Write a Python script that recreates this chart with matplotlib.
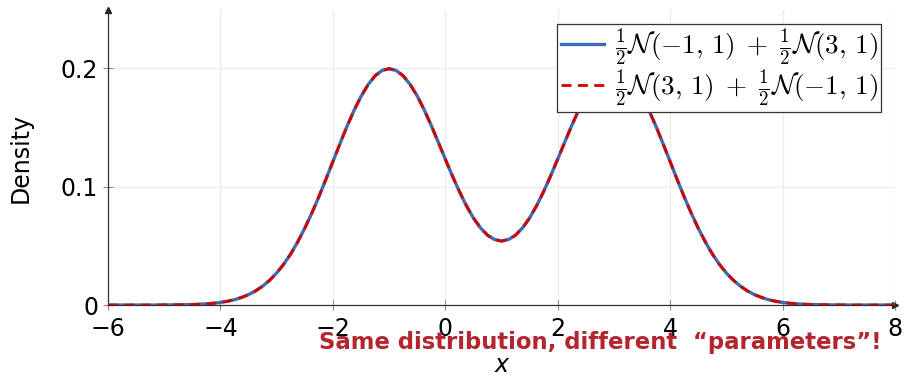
import numpy as np
import matplotlib
matplotlib.use("Agg")
import matplotlib.pyplot as plt

matplotlib.rcParams['mathtext.fontset'] = 'cm'
matplotlib.rcParams['font.family'] = 'DejaVu Sans'

# density of the two-component mixture (x step 0.125)
x_vals = np.arange(-6, 8.001, 0.125)
density = [
    0.0000, 0.0000, 0.0000, 0.0000, 0.0000, 0.0000, 0.0000, 0.0000,
    0.0001, 0.0001, 0.0002, 0.0003, 0.0004, 0.0007, 0.0010, 0.0015,
    0.0022, 0.0032, 0.0045, 0.0064, 0.0088, 0.0119, 0.0159, 0.0209,
    0.0270, 0.0344, 0.0431, 0.0533, 0.0648, 0.0775, 0.0913, 0.1059,
    0.1210, 0.1360, 0.1506, 0.1641, 0.1760, 0.1859, 0.1934, 0.1980,
    0.1995, 0.1980, 0.1935, 0.1862, 0.1765, 0.1648, 0.1516, 0.1375,
    0.1232, 0.1091, 0.0959, 0.0839, 0.0735, 0.0652, 0.0590, 0.0553,
    0.0540,
    0.0553, 0.0590, 0.0652, 0.0735, 0.0839, 0.0959, 0.1091, 0.1232,
    0.1375, 0.1516, 0.1648, 0.1765, 0.1862, 0.1935, 0.1980, 0.1995,
    0.1980, 0.1934, 0.1859, 0.1760, 0.1641, 0.1506, 0.1360, 0.1210,
    0.1059, 0.0913, 0.0775, 0.0648, 0.0533, 0.0431, 0.0344, 0.0270,
    0.0209, 0.0159, 0.0119, 0.0088, 0.0064, 0.0045, 0.0032, 0.0022,
    0.0015, 0.0010, 0.0007, 0.0004, 0.0003, 0.0002, 0.0001, 0.0001,
    0.0000, 0.0000, 0.0000, 0.0000, 0.0000, 0.0000, 0.0000, 0.0000,
]
labels = [r"$\frac{1}{2}\mathcal{N}(-1,\,1)\;+\;\frac{1}{2}\mathcal{N}(3,\,1)$",
          r"$\frac{1}{2}\mathcal{N}(3,\,1)\;+\;\frac{1}{2}\mathcal{N}(-1,\,1)$"]
xticks = [-6, -4, -2, 0, 2, 4, 6, 8]
yticks = [0, 0.1, 0.2]
ytick_labels = ["0", "0.1", "0.2"]

fig = plt.figure(figsize=(9.05, 3.78), dpi=100)
ax = fig.add_axes([0.1193, 0.193, 0.8697, 0.7805])

ax.plot(x_vals, density, color='#3a6db2', linewidth=2.4, label=labels[0], zorder=3)
ax.plot(x_vals, density, color='#d40000', linewidth=2.0, linestyle=(0, (3.6, 2.3)),
        label=labels[1], zorder=4)

ax.set_xlim(-6, 8)
ax.set_ylim(0, 0.249)
ax.set_xticks(xticks)
ax.set_xticklabels([str(v).replace('-', '\u2212') for v in xticks])
ax.set_yticks(yticks)
ax.set_yticklabels(ytick_labels)
ax.tick_params(labelsize=17, direction='inout', length=7, width=0.8, color='#888888')
ax.tick_params(axis='x', pad=5)
ax.grid(True, color='#ececec', linewidth=0.9)
ax.set_axisbelow(True)

for s in ['top', 'right']:
    ax.spines[s].set_visible(False)
for s in ['left', 'bottom']:
    ax.spines[s].set_linewidth(0.9)
    ax.spines[s].set_color('#333333')
ax.plot(1, 0, marker='>', color='#222222', markersize=5, transform=ax.transAxes, clip_on=False)
ax.plot(0, 1, marker='^', color='#222222', markersize=5, transform=ax.transAxes, clip_on=False)

ax.set_ylabel("Density", fontsize=17, labelpad=20)
ax.set_xlabel("x", fontsize=17, labelpad=9, fontstyle='italic')

leg = ax.legend(loc='upper right', fontsize=19.5, frameon=True, fancybox=False,
                edgecolor='#333333', framealpha=1, handlelength=1.6,
                borderpad=0.12, labelspacing=0.02, handletextpad=0.4,
                borderaxespad=0, bbox_to_anchor=(0.982, 0.9525))
leg.get_frame().set_linewidth(0.9)
leg.set_zorder(10)

fig.text(0.663, 0.095, "Same distribution, different  \u201cparameters\u201d!",
         color='#b5252f', fontsize=16.4, fontweight='bold', ha='center', va='center',
         zorder=20)

fig.savefig("out.png", dpi=100)
